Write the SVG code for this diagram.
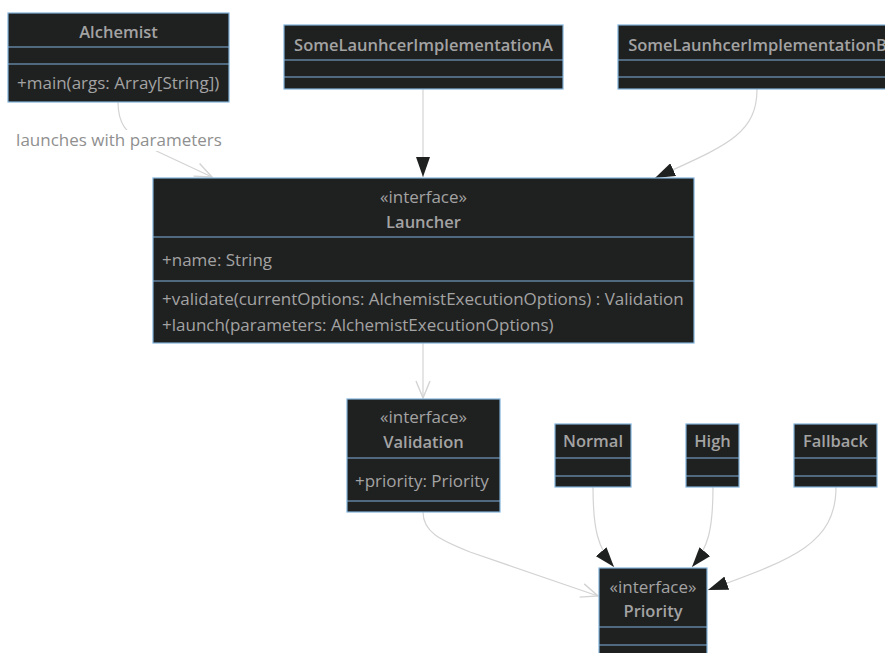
<svg xmlns="http://www.w3.org/2000/svg" width="885" height="653" viewBox="0 0 885 653">
  <style>
    .box { fill: #1f2020; stroke: #81b1db; stroke-width: 1.2; }
    .div { stroke: #81b1db; stroke-width: 1.2; }
    .t { font-family: "Open Sans", "Liberation Sans", sans-serif; font-size: 17px; fill: #a3a3a3; }
    .b { font-weight: 600; font-size: 16.5px; }
    .c { text-anchor: middle; }
    .edge { fill: none; stroke: #d3d3d3; stroke-width: 1.2; }
    .lbl { font-family: "Open Sans", "Liberation Sans", sans-serif; font-size: 17px; fill: #8f8f8f; text-anchor: middle; }
  </style>
  <defs>
    <marker id="tri" viewBox="0 0 20 14" refX="20" refY="7" markerWidth="20" markerHeight="14" markerUnits="userSpaceOnUse" orient="auto">
      <path d="M0,0 L20,7 L0,14 Z" fill="#1f2020"/>
    </marker>
    <marker id="open" viewBox="0 0 20 20" refX="19" refY="10" markerWidth="20" markerHeight="20" markerUnits="userSpaceOnUse" orient="auto">
      <path d="M2,3 L19,10 L2,17" fill="none" stroke="#d3d3d3" stroke-width="1.4"/>
    </marker>
  </defs>
  <rect width="885" height="653" fill="#ffffff"/>

  <g id="edges">
    <path class="edge" d="M118,102 C118,122 124,133 150,148 L212,177" marker-end="url(#open)"/>
    <path class="edge" d="M423,89 L423,177" marker-end="url(#tri)"/>
    <path class="edge" d="M757,89 C757,135 725,146 655,178" marker-end="url(#tri)"/>
    <path class="edge" d="M423,343 L423,398" marker-end="url(#open)"/>
    <path class="edge" d="M423,512 C423,532 440,540 470,552 L598,596" marker-end="url(#open)"/>
    <path class="edge" d="M593,487 C593,530 598,548 614,567" marker-end="url(#tri)"/>
    <path class="edge" d="M713,487 C713,530 708,548 692,567" marker-end="url(#tri)"/>
    <path class="edge" d="M836,487 C836,545 790,560 708,590" marker-end="url(#tri)"/>
    <rect x="15" y="130" width="208" height="21" fill="#ffffff"/>
    <text class="lbl" x="119" y="146">launches with parameters</text>
  </g>

  <g id="Alchemist">
    <rect class="box" x="8" y="13" width="221" height="89"/>
    <line class="div" x1="8" y1="47" x2="229" y2="47"/>
    <line class="div" x1="8" y1="64" x2="229" y2="64"/>
    <text class="t b c" x="118.5" y="38">Alchemist</text>
    <text class="t" x="17" y="89">+main(args: Array[String])</text>
  </g>

  <g id="SomeLaunhcerImplementationA">
    <rect class="box" x="284" y="25" width="279" height="64"/>
    <line class="div" x1="284" y1="60" x2="563" y2="60"/>
    <line class="div" x1="284" y1="77" x2="563" y2="77"/>
    <text class="t b c" x="423.5" y="51">SomeLaunhcerImplementationA</text>
  </g>

  <g id="SomeLaunhcerImplementationB">
    <rect class="box" x="618" y="25" width="279" height="64"/>
    <line class="div" x1="618" y1="60" x2="897" y2="60"/>
    <line class="div" x1="618" y1="77" x2="897" y2="77"/>
    <text class="t b c" x="757.5" y="51">SomeLaunhcerImplementationB</text>
  </g>

  <g id="Launcher">
    <rect class="box" x="153" y="178" width="541" height="165"/>
    <line class="div" x1="153" y1="237" x2="694" y2="237"/>
    <line class="div" x1="153" y1="281" x2="694" y2="281"/>
    <text class="t c" x="423.5" y="203">«interface»</text>
    <text class="t b c" x="423.5" y="228">Launcher</text>
    <text class="t" x="162" y="266">+name: String</text>
    <text class="t" x="162" y="305">+validate(currentOptions: AlchemistExecutionOptions) : Validation</text>
    <text class="t" x="162" y="331">+launch(parameters: AlchemistExecutionOptions)</text>
  </g>

  <g id="Validation">
    <rect class="box" x="347" y="399" width="153" height="113"/>
    <line class="div" x1="347" y1="458" x2="500" y2="458"/>
    <line class="div" x1="347" y1="501" x2="500" y2="501"/>
    <text class="t c" x="423.5" y="423">«interface»</text>
    <text class="t b c" x="423.5" y="448">Validation</text>
    <text class="t" x="355" y="487">+priority: Priority</text>
  </g>

  <g id="Normal">
    <rect class="box" x="555" y="424" width="76" height="63"/>
    <line class="div" x1="555" y1="458" x2="631" y2="458"/>
    <line class="div" x1="555" y1="476" x2="631" y2="476"/>
    <text class="t b c" x="593" y="447">Normal</text>
  </g>

  <g id="High">
    <rect class="box" x="686" y="424" width="53" height="63"/>
    <line class="div" x1="686" y1="458" x2="739" y2="458"/>
    <line class="div" x1="686" y1="476" x2="739" y2="476"/>
    <text class="t b c" x="712.5" y="447">High</text>
  </g>

  <g id="Fallback">
    <rect class="box" x="794" y="424" width="83" height="63"/>
    <line class="div" x1="794" y1="458" x2="877" y2="458"/>
    <line class="div" x1="794" y1="476" x2="877" y2="476"/>
    <text class="t b c" x="835.5" y="447">Fallback</text>
  </g>

  <g id="Priority">
    <rect class="box" x="599" y="568" width="108" height="95"/>
    <line class="div" x1="599" y1="627" x2="707" y2="627"/>
    <line class="div" x1="599" y1="645" x2="707" y2="645"/>
    <text class="t c" x="653" y="593">«interface»</text>
    <text class="t b c" x="653" y="617">Priority</text>
  </g>
</svg>
